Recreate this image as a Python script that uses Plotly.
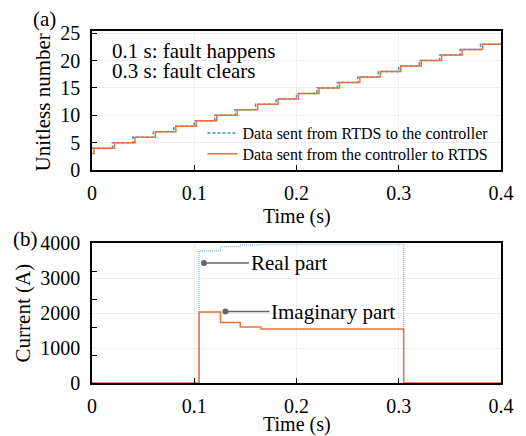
import plotly.graph_objects as go
from plotly.subplots import make_subplots

# ---------------- data ----------------
# (a) step sequences
rtds_t = [0, 0.02, 0.04, 0.06, 0.08, 0.10, 0.12, 0.14, 0.16, 0.18, 0.20,
          0.22, 0.24, 0.26, 0.28, 0.30, 0.32, 0.34, 0.36, 0.38, 0.40]
rtds_v = [4, 5, 6, 7, 8, 9, 10, 11, 12, 13, 14,
          15, 16, 17, 18, 19, 20, 21, 22, 23, 23]
ctrl_t = [0, 0.002, 0.022, 0.042, 0.062, 0.082, 0.102, 0.122, 0.142, 0.162, 0.182,
          0.202, 0.222, 0.242, 0.262, 0.282, 0.302, 0.322, 0.342, 0.362, 0.382, 0.40]
ctrl_v = [3, 4, 5, 6, 7, 8, 9, 10, 11, 12, 13,
          14, 15, 16, 17, 18, 19, 20, 21, 22, 23, 23]

# (b) current
cur_t = [0, 0.1047, 0.1257, 0.1450, 0.1652, 0.3048, 0.40]
real_v = [0, 3780, 3900, 3950, 3970, 0, 0]
imag_v = [0, 2030, 1730, 1600, 1545, 0, 0]

x_ticks = [0, 0.1, 0.2, 0.3, 0.4]
x_ticktext = ["0", "0.1", "0.2", "0.3", "0.4"]
y1_ticks = [0, 5, 10, 15, 20, 25]
y2_ticks = [0, 1000, 2000, 3000, 4000]
y2_minor = [800, 1600, 2400, 3200]

FONT = "Liberation Serif"
BLUE = "#3a8fd0"
BLUE2 = "#62aede"
ORANGE = "#e8703f"

fig = make_subplots(rows=2, cols=1)

fig.add_trace(go.Scatter(x=rtds_t, y=rtds_v, mode="lines", line_shape="hv",
                         line=dict(color=BLUE, width=1.5, dash="3px,2px"),
                         name="Data sent from RTDS to the controller",
                         legend="legend"), row=1, col=1)
fig.add_trace(go.Scatter(x=ctrl_t, y=ctrl_v, mode="lines", line_shape="hv",
                         line=dict(color=ORANGE, width=1.5),
                         name="Data sent from the controller to RTDS",
                         legend="legend2"), row=1, col=1)
fig.add_trace(go.Scatter(x=cur_t, y=real_v, mode="lines", line_shape="hv",
                         line=dict(color=BLUE2, width=1, dash="1px,1px"),
                         showlegend=False, name="Real part"), row=2, col=1)
fig.add_trace(go.Scatter(x=cur_t, y=imag_v, mode="lines", line_shape="hv",
                         line=dict(color=ORANGE, width=1.5),
                         showlegend=False, name="Imaginary part"), row=2, col=1)

axis_common = dict(showline=True, linecolor="black", linewidth=1.5, mirror=True,
                   ticks="inside", ticklen=5, tickwidth=1.2, tickcolor="black",
                   showgrid=True, gridcolor="#efefef", gridwidth=1, zeroline=False,
                   tickfont=dict(family=FONT, size=20, color="black"))

fig.update_xaxes(range=[0, 0.4], tickvals=x_ticks, ticktext=x_ticktext,
                 ticklabelstandoff=4, domain=[0, 1], **axis_common)
fig.update_yaxes(**axis_common)
fig.update_yaxes(range=[0, 25.4], tickvals=y1_ticks, domain=[0.605, 1.0],
                 ticklabelstandoff=6, row=1, col=1)
fig.update_yaxes(range=[0, 4000], tickvals=y2_ticks, domain=[0, 0.397], ticks="",
                 ticklabelstandoff=6,
                 minor=dict(tickvals=y2_minor, ticks="inside", ticklen=5,
                            tickwidth=1.2, tickcolor="black", showgrid=False),
                 row=2, col=1)

tf = dict(family=FONT, size=21, color="black")
tf20 = dict(family=FONT, size=20, color="black")
P = dict(xref="paper", yref="paper", xanchor="center", yanchor="middle", showarrow=False)
ann = [
    dict(text="(a)", x=-0.117, y=1.034, font=tf, **P),
    dict(text="(b)", x=-0.162, y=0.41, font=tf, **P),
    dict(text="Unitless number", x=-0.119, y=0.798, textangle=-90, font=tf, **P),
    dict(text="Current (A)", x=-0.170, y=0.199, textangle=-90, font=tf, **P),
    dict(text="Time (s)", x=0.502, y=0.474, font=tf20, **P),
    dict(text="Time (s)", x=0.502, y=-0.119, font=tf20, **P),
    dict(text="0.1 s: fault happens", xref="x", yref="y", x=0.0172, y=21.7,
         xanchor="left", showarrow=False, font=tf),
    dict(text="0.3 s: fault clears", xref="x", yref="y", x=0.0172, y=18.05,
         xanchor="left", showarrow=False, font=tf),
    dict(text="Real part", xref="x2", yref="y2", x=0.1095, y=3437, ax=45, ay=0,
         xanchor="left", showarrow=True, arrowhead=6, arrowsize=1, arrowwidth=1.5,
         arrowcolor="#666666", font=tf),
    dict(text="Imaginary part", xref="x2", yref="y2", x=0.1305, y=2046, ax=44, ay=0,
         xanchor="left", showarrow=True, arrowhead=6, arrowsize=1, arrowwidth=1.5,
         arrowcolor="#666666", font=tf),
]

leg = dict(xanchor="left", yanchor="middle", bgcolor="rgba(0,0,0,0)",
           font=dict(family=FONT, size=16, color="black"), itemwidth=30)

fig.update_layout(
    width=526, height=436,
    margin=dict(l=92, r=20, t=31, b=53),
    plot_bgcolor="white", paper_bgcolor="white",
    font=dict(family=FONT, color="black"),
    annotations=ann,
    legend=dict(x=0.27, y=0.710, **leg),
    legend2=dict(x=0.27, y=0.651, **leg),
)

fig.write_html("out.html", config={"displayModeBar": False},
               post_script="document.body.style.margin='0';document.body.style.padding='0';")
